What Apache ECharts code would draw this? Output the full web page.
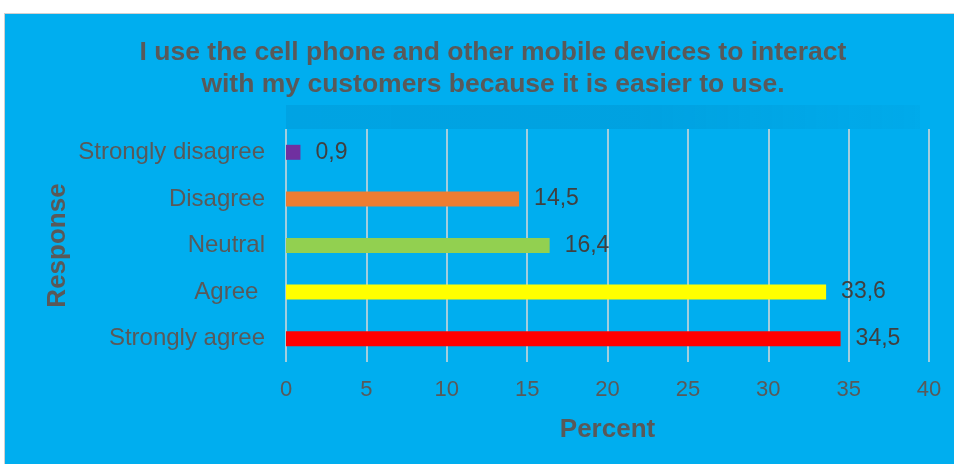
<!DOCTYPE html>
<html>
<head>
<meta charset="utf-8">
<script src="https://cdn.jsdelivr.net/npm/echarts@6/dist/echarts.min.js"></script>
<style>
  html, body { margin: 0; padding: 0; background: #ffffff; }
  #frame {
    position: absolute; left: 4px; top: 13px; width: 952px; height: 453px;
    background: #00AEEF; border: 1px solid #d0d0d0; box-sizing: border-box;
  }
  #chart { position: absolute; left: 0; top: 0; width: 954px; height: 464px; }
</style>
</head>
<body>
<div id="frame"></div>
<div id="chart"></div>
<script>
// Survey responses, listed bottom-to-top as drawn on the category axis
const categories = ['Strongly agree', 'Agree ', 'Neutral', 'Disagree', 'Strongly disagree'];
const percents = [34.5, 33.6, 16.4, 14.5, 0.9];
const barColors = ['#FF0000', '#FFFF00', '#92D050', '#ED7D31', '#7030A0'];
const xTicks = [0, 5, 10, 15, 20, 25, 30, 35, 40];

const chart = echarts.init(document.getElementById('chart'), null, { renderer: 'canvas' });

const font = "'Liberation Sans', Arial, sans-serif";

chart.setOption({
  backgroundColor: 'transparent',
  animation: false,
  title: {
    text: 'I use the cell phone and other mobile devices to interact\nwith my customers because it is easier to use.',
    left: 488, top: 32, textAlign: 'center',
    textStyle: {
      fontFamily: font, fontSize: 26.5, fontWeight: 'bold', color: '#595959', lineHeight: 32
    }
  },
  // soft shadow band above the plot area
  graphic: [{
    type: 'rect', silent: true, z: -1,
    shape: { x: 286, y: 105, width: 634, height: 24 },
    style: {
      fill: {
        type: 'linear', x: 0, y: 0, x2: 1, y2: 0,
        colorStops: [
          { offset: 0, color: 'rgba(0,90,140,0.12)' },
          { offset: 0.55, color: 'rgba(0,90,140,0.14)' },
          { offset: 1, color: 'rgba(0,90,140,0.04)' }
        ]
      }
    }
  }],
  grid: { left: 286, right: 25, top: 129, bottom: 102, containLabel: false },
  xAxis: {
    type: 'value', min: xTicks[0], max: xTicks[xTicks.length - 1], interval: 5,
    name: 'Percent', nameLocation: 'middle', nameGap: 55, nameMoveOverlap: false,
    nameTextStyle: { fontFamily: font, fontSize: 26, fontWeight: 'bold', color: '#595959' },
    axisLine: { show: false }, axisTick: { show: false },
    axisLabel: { fontFamily: font, fontSize: 22, color: '#595959', margin: 17,
      formatter: v => xTicks.includes(v) ? String(v) : '' },
    splitLine: { show: true, lineStyle: { color: '#D9D9D9', width: 1.5 } }
  },
  yAxis: {
    type: 'category', data: categories,
    name: 'Response', nameLocation: 'middle', nameGap: 215, nameRotate: 90, nameMoveOverlap: false,
    nameTextStyle: { fontFamily: font, fontSize: 26, fontWeight: 'bold', color: '#595959' },
    axisLine: { show: false }, axisTick: { show: false },
    axisLabel: { fontFamily: font, fontSize: 24, color: '#595959', margin: 21 }
  },
  series: [{
    type: 'bar',
    data: percents.map((v, i) => ({ value: v, itemStyle: { color: barColors[i] } })),
    barWidth: 15,
    label: {
      show: true, position: 'right', distance: 15,
      fontFamily: font, fontSize: 23, color: '#404040',
      formatter: p => String(p.value).replace('.', ',')
    }
  }]
});
</script>
</body>
</html>
